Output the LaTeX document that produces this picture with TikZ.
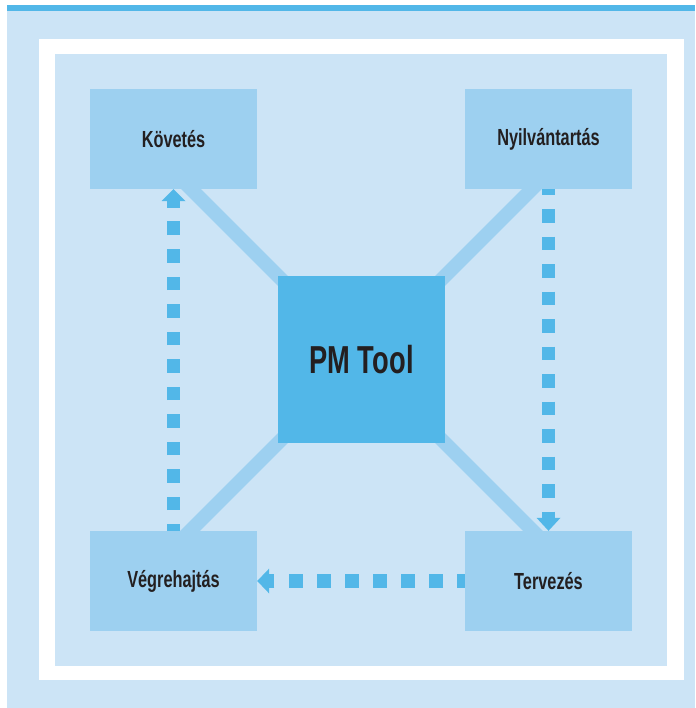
\documentclass[tikz,border=0pt]{standalone}
\usepackage{fontspec}
\setmainfont{Liberation Sans}[FakeStretch=0.7]
\usetikzlibrary{calc}
\definecolor{bglight}{RGB}{204,228,246}
\definecolor{boxblue}{RGB}{157,208,240}
\definecolor{midblue}{RGB}{82,183,232}
\definecolor{txt}{RGB}{35,31,32}
\pgfdeclarelayer{bg}
\pgfsetlayers{bg,main}
\tikzset{
  stagebox/.style={fill=boxblue, minimum width=167pt, minimum height=100pt, inner sep=0pt,
    text=txt, font=\fontsize{23.3}{28}\selectfont\bfseries},
  toolbox/.style={fill=midblue, minimum width=167pt, minimum height=167pt, inner sep=0pt,
    text=txt, font=\fontsize{39}{46}\selectfont\bfseries},
  link/.style={draw=boxblue, line width=14pt, line cap=butt},
  flow/.style={draw=midblue, line width=13.6pt, line cap=butt},
  tip/.style={fill=midblue}
}
\begin{document}
\begin{tikzpicture}[x=1pt, y=-1pt]
\useasboundingbox (0,0) rectangle (695,708);
\begin{pgfonlayer}{bg}
  \fill[white] (0,0) rectangle (695,708);
  \fill[bglight] (7,5) rectangle (695,708);
  \fill[midblue] (7,5) rectangle (695,11);
  \fill[white] (39,39) rectangle (684,680);
  \fill[bglight] (55,54) rectangle (667,666);
\end{pgfonlayer}

\node[stagebox] (kov) at (173.5,139) {Követés};
\node[stagebox] (nyil) at (548.5,139) {Nyilvántartás};
\node[stagebox] (veg) at (173.5,581) {Végrehajtás};
\node[stagebox] (terv) at (548.5,581) {Tervezés};
\node[toolbox] (pm) at (361.5,359.5) {PM Tool};

\begin{pgfonlayer}{bg}
  \draw[link] (pm.center) -- ($(pm.center)!2.4!(pm.north west)$);
  \draw[link] (pm.center) -- ($(pm.center)!2.4!(pm.north east)$);
  \draw[link] (pm.center) -- ($(pm.center)!2.4!(pm.south west)$);
  \draw[link] (pm.center) -- ($(pm.center)!2.4!(pm.south east)$);
\end{pgfonlayer}

% Vegrehajtas -> Kovetes
\draw[flow, dash pattern=on 13.6pt off 13.9pt, dash phase=6.8pt] (veg.north) -- ($(kov.south)+(0,12)$);
\fill[tip] (kov.south) -- ++(-12,12) -- ++(24,0) -- cycle;
% Nyilvantartas -> Tervezes
\draw[flow, dash pattern=on 13.5pt off 14pt, dash phase=7.5pt] (nyil.south) -- ($(terv.north)+(0,-13)$);
\fill[tip] (terv.north) -- ++(-12,-13) -- ++(24,0) -- cycle;
% Tervezes -> Vegrehajtas
\draw[flow, dash pattern=on 14pt off 14.1pt, dash phase=6.3pt] (terv.west) -- ($(veg.east)+(12,0)$);
\fill[tip] (veg.east) -- ++(12,-12.5) -- ++(0,25) -- cycle;
\end{tikzpicture}
\end{document}
